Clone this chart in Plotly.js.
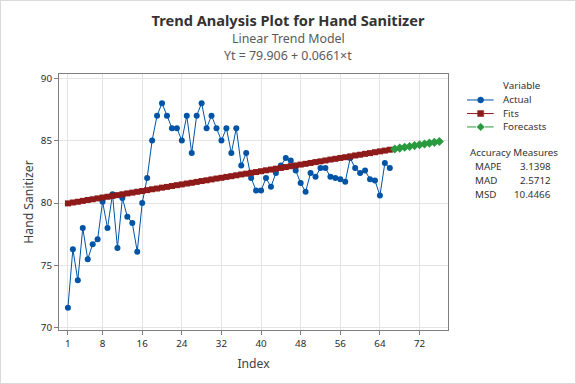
<!DOCTYPE html>
<html><head><meta charset="utf-8">
<script src="https://cdn.plot.ly/plotly-3.0.1.min.js"></script>
<style>
html,body{margin:0;padding:0;background:#fff;}
#wrap{position:relative;width:576px;height:384px;}
#chart{width:576px;height:384px;}
#frame{position:absolute;left:0;top:0;width:576px;height:384px;box-sizing:border-box;border:1px solid #dadada;pointer-events:none;}
</style>
</head><body><div id="wrap"><div id="chart"></div><div id="frame"></div></div>
<script>
const actualIndex = [1,2,3,4,5,6,7,8,9,10,11,12,13,14,15,16,17,18,19,20,21,22,23,24,25,26,27,28,29,30,31,32,33,34,35,36,37,38,39,40,41,42,43,44,45,46,47,48,49,50,51,52,53,54,55,56,57,58,59,60,61,62,63,64,65,66];
const actualValues = [71.6,76.3,73.8,78.0,75.5,76.7,77.1,80.1,78.0,80.7,76.4,80.4,78.9,78.4,76.1,80.0,82.0,85.0,87.0,88.0,87.0,86.0,86.0,85.0,87.0,84.0,87.0,88.0,86.0,87.0,86.0,85.0,86.0,84.0,86.0,83.0,84.0,82.0,81.0,81.0,82.0,81.3,82.4,83.0,83.6,83.4,82.6,81.6,80.9,82.4,82.1,82.8,82.8,82.1,82.0,81.9,81.7,83.6,82.8,82.4,82.6,81.9,81.8,80.6,83.2,82.8];
const fitValues = [79.97,80.04,80.10,80.17,80.24,80.30,80.37,80.44,80.50,80.57,80.63,80.70,80.77,80.83,80.90,80.96,81.03,81.10,81.16,81.23,81.29,81.36,81.43,81.49,81.56,81.62,81.69,81.76,81.82,81.89,81.96,82.02,82.09,82.15,82.22,82.29,82.35,82.42,82.48,82.55,82.62,82.68,82.75,82.81,82.88,82.95,83.01,83.08,83.14,83.21,83.28,83.34,83.41,83.48,83.54,83.61,83.67,83.74,83.81,83.87,83.94,84.00,84.07,84.14,84.20,84.27];
const forecastIndex = [67,68,69,70,71,72,73,74,75,76];
const forecastValues = [84.33,84.40,84.47,84.53,84.60,84.67,84.73,84.80,84.86,84.93];
const xTicks = [1,8,16,24,32,40,48,56,64,72];
const yTicks = [70,75,80,85,90];
const accuracyLabels = ['MAPE','MAD','MSD'];
const accuracyValues = ['3.1398','2.5712','10.4466'];
const seriesNames = ['Actual','Fits','Forecasts'];

const FONT = '"Noto Sans", "Open Sans", sans-serif';
const BLUE = '#0054a6', RED = '#8e1a1a', GREEN = '#2a9a3f';

const L=59.3, R=447.7, T=73.7, B=330;
const px = x => (x-L)/(R-L);
const py = y => (B-y)/(B-T);

const traces = [
  {x: actualIndex, y: actualValues, type:'scatter', mode:'lines+markers', name: seriesNames[0],
   line:{color:BLUE, width:1}, marker:{color:BLUE, size:6, symbol:'circle'}},
  {x: actualIndex, y: fitValues, type:'scatter', mode:'lines+markers', name: seriesNames[1],
   line:{color:RED, width:1}, marker:{color:RED, size:6, symbol:'square'}},
  {x: forecastIndex, y: forecastValues, type:'scatter', mode:'lines+markers', name: seriesNames[2],
   line:{color:GREEN, width:1, dash:'dash'}, marker:{color:GREEN, size:7, symbol:'diamond'}}
];

// legend built from shapes + annotations
const legendRows = [99.7, 113.3, 126.7];
const colors = [BLUE, RED, GREEN];
const shapes = [];
legendRows.forEach((yy, i) => {
  shapes.push({type:'line', xref:'paper', yref:'paper', x0:px(466.7), x1:px(493.3), y0:py(yy), y1:py(yy),
    line:{color:colors[i], width:1, dash: i===2 ? 'dash' : 'solid'}});
});
const cx = 480.3, r = 3;
shapes.push({type:'circle', xref:'paper', yref:'paper', x0:px(cx-r), x1:px(cx+r), y0:py(legendRows[0]+r), y1:py(legendRows[0]-r),
  fillcolor:BLUE, line:{color:BLUE, width:0.5}});
shapes.push({type:'rect', xref:'paper', yref:'paper', x0:px(cx-r), x1:px(cx+r), y0:py(legendRows[1]+r), y1:py(legendRows[1]-r),
  fillcolor:RED, line:{color:RED, width:0.5}});
{
  const yy = legendRows[2], d = 3.8;
  shapes.push({type:'path', xref:'paper', yref:'paper',
    path:`M ${px(cx-d)} ${py(yy)} L ${px(cx)} ${py(yy-d)} L ${px(cx+d)} ${py(yy)} L ${px(cx)} ${py(yy+d)} Z`,
    fillcolor:GREEN, line:{color:GREEN, width:0.5}});
}

const annFont = {family: FONT, size: 9.8, color:'#333333'};
const subFont = {family: FONT, size: 12.4, color:'#5a5a5a'};
const ann = (text, x, y, xanchor, font) => ({text, xref:'paper', yref:'paper', x:px(x), y:py(y), xanchor, yanchor:'middle',
  showarrow:false, borderpad:0, font});
const annotations = [
  ann('Linear Trend Model', 288, 38.5, 'center', subFont),
  ann('Yt = 79.906 + 0.0661×t', 288, 55, 'center', subFont),
  ann('Variable', 501.7, 85.7, 'left', annFont),
  ann('Accuracy Measures', 469, 152.3, 'left', annFont)
];
seriesNames.forEach((n, i) => annotations.push(ann(n, 501.7, legendRows[i], 'left', annFont)));
const accRows = [166.7, 180.3, 194];
accuracyLabels.forEach((n, i) => {
  annotations.push(ann(n, 473.3, accRows[i], 'left', annFont));
  annotations.push(ann(accuracyValues[i], 552, accRows[i], 'right', annFont));
});

const axisCommon = {
  ticks:'outside', ticklen:4, tickcolor:'#7f7f7f', tickwidth:1,
  showline:true, linecolor:'#7f7f7f', linewidth:1, mirror:true,
  showgrid:true, gridcolor:'#e4e4e4', gridwidth:1, zeroline:false,
  tickfont:{family:FONT, size:9.8, color:'#2a2a2a'}, automargin:false
};

const layout = {
  width:576, height:384,
  margin:{l:59, r:128, t:74, b:54, pad:0},
  paper_bgcolor:'#ffffff', plot_bgcolor:'#ffffff',
  showlegend:false,
  font:{family:FONT},
  title:{text:'<b>Trend Analysis Plot for Hand Sanitizer</b>', font:{family:FONT, size:14.6, color:'#333333'},
         x:0.5, xref:'container', y:1-20.5/384, yref:'container', yanchor:'middle'},
  xaxis: Object.assign({}, axisCommon, {range:[-0.8, 77.75], tickmode:'array', tickvals:xTicks,
     title:{text:'Index', font:{family:FONT, size:12.2, color:'#404040'}, standoff:10}}),
  yaxis: Object.assign({}, axisCommon, {range:[69.82, 90.34], tickmode:'array', tickvals:yTicks,
     title:{text:'Hand Sanitizer', font:{family:FONT, size:12.2, color:'#404040'}, standoff:4}}),
  shapes: shapes,
  annotations: annotations
};

Plotly.newPlot('chart', traces, layout, {displayModeBar:false, staticPlot:true});
</script>
</body></html>
